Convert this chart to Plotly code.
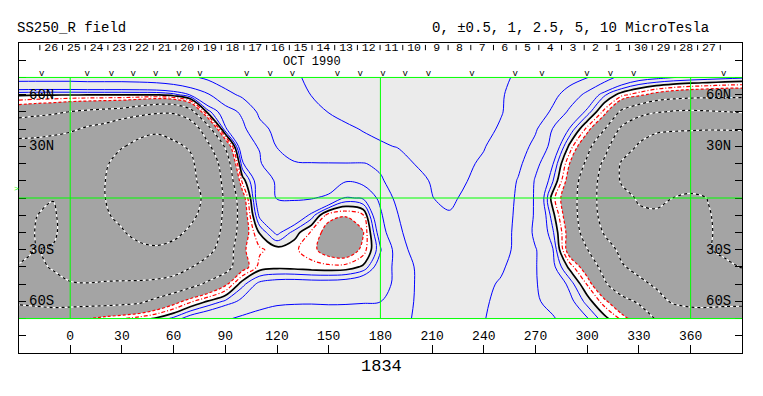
import plotly.graph_objects as go

FONT = "Liberation Mono"

# ---------------- data: source-surface radial field (microtesla) ----------------
lon_grid = [-30, -20, -10, 0, 10, 20, 30, 40, 50, 60, 70, 80, 90, 100, 110, 120, 130, 140, 150, 160,
            170, 180, 190, 200, 210, 220, 230, 240, 250, 260, 270, 280, 290, 300, 310, 320, 330, 340,
            350, 360, 370, 380, 390]
lat_grid = [70, 60, 50, 40, 30, 20, 10, 0, -10, -20, -30, -40, -50, -60, -70]

b_p70 = [3.2, 3.2, 3.2, 3.2, 3.3, 3.3, 3.3, 3.4, 3.6, 4.0, 4.6, 5.5, 6.5, 7.5, 8.3, 9.0, 9.7, 10.4, 11.0, 11.5, 11.8, 12.0, 12.0, 12.0, 12.0, 11.8, 11.5, 11.0, 10.5, 9.6, 8.2, 7.0, 6.0, 5.1, 3.2, 2.0, 1.4, 1.2, 1.02, 0.9, 0.8, 0.7, 0.6]
b_p60 = [0.1, 0.05, 0.05, 0.05, 0.05, 0.05, 0.05, 0.05, 0.05, 0.3, 1.1, 2.3, 4.2, 5.5, 6.7, 7.7, 8.6, 10.1, 10.8, 11.3, 11.7, 12.0, 12.1, 12.1, 12.0, 11.7, 11.3, 10.8, 10.2, 9.2, 7.7, 5.7, 3.9, 1.9, 0.6, -0.3, -0.8, -1.3, -1.6, -1.8, -1.9, -2.0, -2.0]
b_p50 = [-1.8, -2.0, -2.2, -2.55, -2.8, -3.0, -3.2, -3.8, -4.5, -4.6, -3.2, 0.3, 1.5, 2.9, 5.5, 6.7, 7.8, 8.8, 10.1, 11.0, 11.6, 12.0, 12.2, 12.3, 12.2, 12.0, 11.6, 11.0, 10.2, 8.5, 6.5, 4.6, 2.0, 0.8, -0.7, -2.8, -3.8, -4.8, -5.2, -5.3, -5.2, -5.05, -4.8]
b_p40 = [-3.8, -4.0, -4.3, -4.6, -5.4, -6.0, -7.5, -9.0, -9.5, -8.5, -6.8, -3.3, 0.9, 2.0, 4.3, 5.6, 6.6, 7.6, 8.5, 9.4, 10.2, 11.0, 11.6, 12.0, 12.2, 12.2, 11.8, 10.9, 9.6, 7.8, 5.3, 2.4, 0.9, -0.7, -2.45, -5.5, -8.0, -9.5, -9.7, -9.8, -9.9, -9.9, -9.9]
b_p30 = [-6.0, -6.0, -6.2, -6.8, -7.7, -8.5, -9.8, -10.8, -11.2, -10.8, -9.5, -5.5, -2.3, 2.0, 2.6, 5.1, 6.0, 6.8, 7.5, 8.2, 8.9, 9.5, 10.2, 10.8, 11.2, 11.2, 10.8, 10.2, 8.5, 6.2, 4.3, 1.8, -0.2, -2.0, -4.0, -7.5, -10.5, -11.5, -12.0, -12.0, -11.8, -11.5, -11.2]
b_p20 = [-7.0, -6.8, -6.5, -7.5, -8.7, -9.5, -11.5, -12.5, -13.0, -12.5, -10.8, -6.8, -3.8, 0.9, 2.3, 4.2, 4.85, 4.9, 4.9, 4.9, 4.85, 5.6, 8.0, 10.1, 10.6, 10.8, 10.5, 9.5, 7.5, 5.6, 3.0, 1.05, -1.05, -2.8, -5.5, -10.5, -12.0, -12.8, -13.2, -13.3, -13.0, -12.6, -12.3]
b_p10 = [-7.5, -7.0, -6.0, -7.8, -9.3, -9.9, -12.3, -13.3, -13.8, -13.3, -11.5, -7.2, -4.3, -0.3, 1.6, 2.7, 3.6, 3.8, 3.5, 2.6, 3.0, 4.6, 6.5, 8.8, 10.3, 10.5, 10.1, 8.5, 6.8, 4.8, 2.3, 0.55, -1.5, -3.5, -6.0, -10.5, -11.8, -12.5, -12.8, -12.8, -12.5, -12.2, -12.0]
b_000 = [-7.5, -5.6, -5.1, -7.0, -9.3, -9.9, -12.3, -13.3, -13.8, -13.3, -11.6, -8.9, -4.4, -1.5, 1.8, 2.55, 2.6, 2.6, 2.2, 0.9, 1.1, 2.9, 5.8, 7.8, 9.9, 11.0, 9.0, 7.5, 6.0, 4.7, 2.2, -0.3, -1.8, -3.5, -6.2, -8.5, -10.5, -10.8, -9.95, -9.0, -10.1, -11.0, -11.2]
b_m10 = [-7.0, -5.05, -4.6, -6.5, -8.8, -9.5, -11.0, -12.8, -13.3, -12.5, -10.8, -8.5, -4.2, -1.8, 1.2, 1.9, 1.9, 0.8, -0.8, -0.95, -0.55, 2.2, 4.9, 6.8, 8.5, 9.6, 8.5, 7.2, 5.9, 4.6, 2.2, 0.2, -1.8, -3.4, -6.0, -8.0, -9.2, -9.5, -9.2, -8.6, -9.7, -11.2, -11.5]
b_m20 = [-6.5, -4.9, -4.6, -6.2, -8.2, -9.0, -9.6, -11.5, -12.2, -11.0, -9.3, -6.8, -4.2, -1.6, 0.07, 1.2, 0.3, -0.6, -1.3, -1.5, -1.05, 1.5, 4.5, 6.2, 7.8, 8.8, 8.3, 7.0, 5.8, 4.5, 2.0, 0.6, -1.5, -3.2, -5.2, -7.0, -8.0, -8.4, -8.5, -8.5, -9.6, -11.0, -11.3]
b_m30 = [-6.0, -4.9, -5.2, -6.3, -7.3, -7.8, -8.0, -8.8, -9.3, -8.8, -7.5, -5.7, -3.8, -1.1, -0.6, -0.25, -0.4, -0.8, -1.4, -1.6, -0.8, 0.9, 3.2, 6.2, 7.5, 8.2, 8.0, 7.0, 5.7, 4.5, 2.6, 1.05, -1.6, -2.45, -4.0, -5.5, -6.5, -7.0, -7.2, -7.5, -9.7, -10.8, -11.0]
b_m40 = [-4.8, -4.5, -5.2, -6.0, -6.4, -6.6, -6.7, -6.9, -7.0, -6.4, -5.1, -3.9, -3.2, -1.4, -0.3, -0.15, -0.2, -0.3, -0.35, -0.3, 0.1, 1.5, 3.0, 5.1, 6.3, 7.0, 7.0, 6.4, 5.4, 3.8, 2.6, 1.2, -0.2, -1.6, -3.0, -4.8, -5.6, -6.0, -6.3, -6.6, -7.3, -9.2, -10.2]
b_m50 = [-3.5, -3.6, -4.2, -4.8, -4.9, -4.7, -4.6, -4.5, -4.2, -3.7, -3.0, -2.2, -1.2, 0.35, 1.2, 1.4, 1.45, 1.4, 1.4, 1.5, 1.9, 2.0, 2.8, 5.05, 5.8, 6.1, 6.0, 5.6, 4.7, 3.7, 2.6, 1.7, 0.8, -0.55, -2.3, -3.5, -4.5, -5.3, -5.8, -6.0, -6.2, -6.5, -6.8]
b_m60 = [-2.6, -2.7, -2.9, -3.0, -3.1, -3.1, -3.0, -2.8, -2.1, -1.4, -0.6, 0.05, 0.6, 1.2, 2.0, 2.3, 2.35, 2.35, 2.3, 2.3, 2.35, 2.45, 3.6, 5.1, 5.5, 5.6, 5.5, 5.2, 4.6, 3.7, 2.8, 1.8, 1.2, 0.3, -0.8, -2.0, -2.7, -4.2, -5.3, -5.6, -5.5, -5.3, -5.2]
b_m70 = [-2.1, -2.0, -1.8, -1.5, -1.05, -0.75, -0.52, -0.25, 0.1, 0.65, 1.4, 1.8, 2.3, 2.8, 3.0, 3.1, 3.2, 3.3, 3.3, 3.4, 3.6, 4.0, 4.6, 5.1, 5.2, 5.2, 5.2, 5.05, 4.6, 3.9, 3.0, 2.7, 1.5, 1.05, 0.2, -0.63, -1.6, -2.6, -3.3, -3.8, -4.1, -4.3, -4.5]

field_rows = [b_p70, b_p60, b_p50, b_p40, b_p30, b_p20, b_p10, b_000,
              b_m10, b_m20, b_m30, b_m40, b_m50, b_m60, b_m70]

positive_levels = [0.5, 1, 2.5, 5, 10]
strong_negative_levels = [-2.5, -5, -10]
neutral_level = 0
weak_negative_levels = [-0.5, -1]
dark_fill_below = -1
white_fill_below = 0

lon_tick_vals = [0, 30, 60, 90, 120, 150, 180, 210, 240, 270, 300, 330, 360]
lat_tick_vals = [-80, -70, -60, -50, -40, -30, -20, -10, 0, 10, 20, 30, 40, 50, 60, 70, 80]
lat_label_vals = [60, 30, -30, -60]
lat_label_text = ["60N", "30N", "30S", "60S"]

day_labels = ["26", "25", "24", "23", "22", "21", "20", "19", "18", "17", "16", "15", "14", "13",
              "12", "11", "10", "9", "8", "7", "6", "5", "4", "3", "2", "1", "30", "29", "28", "27"]
first_day_tick_lon = -17.6
deg_per_day = 13.16

obs_marker_lons = [-16.6, 9.9, 24.0, 36.6, 49.6, 63.1, 75.3, 102.4, 116.0, 128.9, 155.0, 168.2,
                   181.4, 194.4, 207.9, 233.1, 258.2, 273.7, 299.9, 313.4, 326.9, 379.2]

# ---------------- figure ----------------
SM = 1.0
LIGHT = "#ebebeb"
DARK = "#a4a4a4"
GREEN = "#00ff00"

# page body has an 8px default margin: the plot area is placed so that it lands at
# x 19..742, y 43..353 of the window
PX0, PY0 = 8, 8
PLOT_L, PLOT_T, PLOT_W, PLOT_H = 19, 43, 723, 310


def px_to_paper_x(px):
    return (px - PLOT_L) / PLOT_W


def px_to_paper_y(py):
    return (PLOT_T + PLOT_H - py) / PLOT_H


fig = go.Figure()

# fills (plotly shades the region that fails the constraint)
fig.add_trace(go.Contour(x=lon_grid, y=lat_grid, z=field_rows, showscale=False, hoverinfo="skip",
                         contours=dict(type="constraint", operation=">", value=white_fill_below),
                         fillcolor="white", line=dict(width=0, smoothing=SM)))
fig.add_trace(go.Contour(x=lon_grid, y=lat_grid, z=field_rows, showscale=False, hoverinfo="skip",
                         contours=dict(type="constraint", operation=">", value=dark_fill_below),
                         fillcolor=DARK, line=dict(width=0, smoothing=SM)))


def add_level(level, color, dash, width):
    fig.add_trace(go.Contour(x=lon_grid, y=lat_grid, z=field_rows, showscale=False, hoverinfo="skip",
                             autocontour=False,
                             contours=dict(start=level, end=level, size=1, coloring="none"),
                             line=dict(color=color, dash=dash, width=width, smoothing=SM)))


for lv in positive_levels:
    add_level(lv, "#0000ff", "solid", 1)
for lv in strong_negative_levels:
    add_level(lv, "white", "solid", 1.2)
    add_level(lv, "black", "3px,3px", 1.2)
add_level(weak_negative_levels[0], "#ff0000", "4px,2px,1px,2px", 1.2)
add_level(weak_negative_levels[1], "#ff0000", "3px,2px", 1.2)
add_level(neutral_level, "black", "solid", 1.7)

# top day ticks and labels
tick_lons = [first_day_tick_lon + deg_per_day * k for k in range(len(day_labels) + 1)]
tx, ty = [], []
for t in tick_lons:
    tx += [t, t, None]
    ty += [88.9, 85.8, None]
fig.add_trace(go.Scatter(x=tx, y=ty, mode="lines", line=dict(color="black", width=1),
                         hoverinfo="skip", cliponaxis=False))
fig.add_trace(go.Scatter(x=[t + deg_per_day / 2 for t in tick_lons[:-1]], y=[86.8] * len(day_labels),
                         mode="text", text=day_labels, textposition="middle center",
                         textfont=dict(family=FONT, size=11.5, color="black"), hoverinfo="skip",
                         cliponaxis=False))

# observation markers
fig.add_trace(go.Scatter(x=obs_marker_lons, y=[72.0] * len(obs_marker_lons), mode="text",
                         text=["v"] * len(obs_marker_lons), textposition="middle center",
                         textfont=dict(family=FONT, size=9, color="black"), hoverinfo="skip",
                         cliponaxis=False))

# bottom longitude labels
fig.add_trace(go.Scatter(x=lon_tick_vals, y=[-80.8] * len(lon_tick_vals), mode="text",
                         text=[str(v) for v in lon_tick_vals], textposition="middle center",
                         textfont=dict(family=FONT, size=13, color="black"), hoverinfo="skip",
                         cliponaxis=False))

annotations = []
for v, s in zip(lat_label_vals, lat_label_text):
    annotations.append(dict(x=-25.3, y=v, xref="x", yref="y", text=s, showarrow=False,
                            xanchor="left", yanchor="middle",
                            font=dict(family=FONT, size=14, color="black")))
    annotations.append(dict(x=384.8, y=v, xref="x", yref="y", text=s, showarrow=False,
                            xanchor="right", yanchor="middle",
                            font=dict(family=FONT, size=14, color="black")))
annotations += [
    dict(x=140.2, y=78.7, xref="x", yref="y", text="OCT 1990", showarrow=False,
         xanchor="center", yanchor="middle", font=dict(family=FONT, size=12, color="black")),
    dict(x=px_to_paper_x(15), y=px_to_paper_y(28), xref="paper", yref="paper", text="SS250_R field",
         showarrow=False, xanchor="left", yanchor="middle", font=dict(family=FONT, size=14, color="black")),
    dict(x=px_to_paper_x(711), y=px_to_paper_y(28), xref="paper", yref="paper",
         text="0, ±0.5, 1, 2.5, 5, 10 MicroTesla",
         showarrow=False, xanchor="right", yanchor="middle", font=dict(family=FONT, size=14, color="black")),
    dict(x=px_to_paper_x(381), y=px_to_paper_y(366), xref="paper", yref="paper", text="1834",
         showarrow=False, xanchor="center", yanchor="middle", font=dict(family=FONT, size=17, color="black")),
    dict(x=px_to_paper_x(16.5), y=px_to_paper_y(188.5), xref="paper", yref="paper", text=">",
         showarrow=False, xanchor="center", yanchor="middle", font=dict(family=FONT, size=8, color=GREEN)),
]

shapes = [dict(type="rect", xref="paper", x0=0, x1=1, yref="y", y0=-70, y1=70,
               fillcolor=LIGHT, line=dict(width=0), layer="below")]
for yv in [70, 0, -70]:
    shapes.append(dict(type="line", xref="paper", x0=0, x1=1, yref="y", y0=yv, y1=yv,
                       line=dict(color=GREEN, width=1), layer="above"))
for xv in [0, 180, 360]:
    shapes.append(dict(type="line", xref="x", x0=xv, x1=xv, yref="y", y0=-70, y1=70,
                       line=dict(color=GREEN, width=1), layer="above"))

fig.update_layout(
    width=763 - PX0, height=396 - PY0,
    margin=dict(l=PLOT_L - PX0, r=763 - PLOT_L - PLOT_W, t=PLOT_T - PY0, b=396 - PLOT_T - PLOT_H),
    plot_bgcolor="white", paper_bgcolor="white", showlegend=False,
    annotations=annotations, shapes=shapes,
    xaxis=dict(range=[-29.7, 389.8], showgrid=False, zeroline=False, showline=True, linecolor="black",
               linewidth=1, mirror=True, ticks="inside", tickvals=lon_tick_vals, ticklen=8,
               tickcolor="black", tickwidth=1, showticklabels=False, fixedrange=True),
    yaxis=dict(range=[-90, 90], showgrid=False, zeroline=False, showline=True, linecolor="black",
               linewidth=1, mirror="ticks", ticks="inside", tickvals=lat_tick_vals, ticklen=7,
               tickcolor="black", tickwidth=1, showticklabels=False, fixedrange=True),
)

fig.write_html("out.html")
